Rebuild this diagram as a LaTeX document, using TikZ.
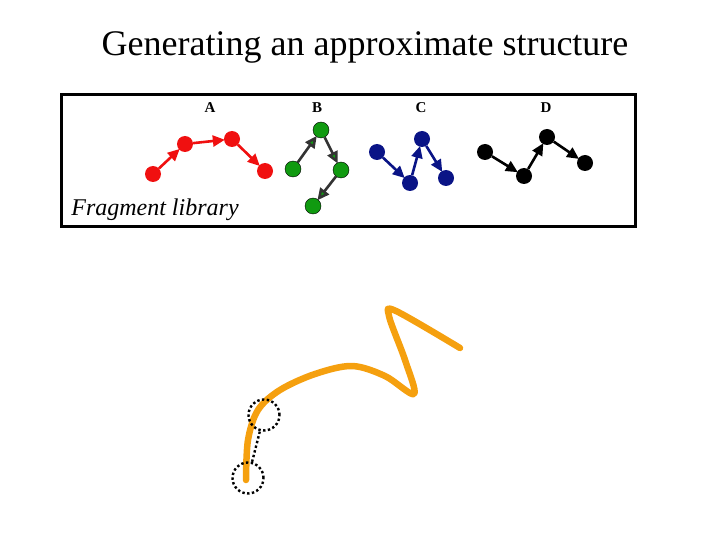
\documentclass[tikz,border=0pt]{standalone}
\usepackage{fontspec}
\setmainfont{Liberation Serif}
\usetikzlibrary{arrows.meta}
\definecolor{fragred}{HTML}{F01010}
\definecolor{fraggreen}{HTML}{109A10}
\definecolor{fragblue}{HTML}{0A1486}
\definecolor{chainorange}{HTML}{F5A00F}

\begin{document}
\begin{tikzpicture}[
		x=1pt, y=-1pt,
		every node/.style={align=center},
		fragnode/.style={circle, inner sep=0pt, minimum size=16pt},
		fraglink/.style={-{Triangle[length=12pt, width=11pt]}, line width=2.6pt, shorten >=-1pt},
		fraglabel/.style={font=\fontsize{15}{17}\selectfont\bfseries},
		libbox/.style={draw=black, line width=3pt, inner sep=0pt},
		probe/.style={circle, draw=black, line width=2.4pt, dash pattern=on 2.4pt off 2.4pt,
				minimum size=31pt, inner sep=0pt},
		chain/.style={chainorange, line width=6.5pt, line cap=round, line join=round},
		]
		\useasboundingbox (0,0) rectangle (720,540);

		% Titel
		\node[font=\fontsize{36}{40}\selectfont] (title) at (365,47) {Generating an approximate structure};

		% Fragment-Bibliothek
		\draw[libbox] (61,95) rectangle (635,227);
		\node[font=\fontsize{24}{27}\selectfont\itshape] (lib) at (155,210) {Fragment library};

		\node[fraglabel] (labA) at (210,108) {A};
		\node[fraglabel] (labB) at (317,108) {B};
		\node[fraglabel] (labC) at (421,108) {C};
		\node[fraglabel] (labD) at (546,108) {D};

		% Fragment A
		\node[fragnode, fill=fragred] (a1) at (153,174) {};
		\node[fragnode, fill=fragred] (a2) at (185,144) {};
		\node[fragnode, fill=fragred] (a3) at (232,139) {};
		\node[fragnode, fill=fragred] (a4) at (265,171) {};
		\draw[fraglink, fragred] (a1) -- (a2);
		\draw[fraglink, fragred] (a2) -- (a3);
		\draw[fraglink, fragred] (a3) -- (a4);

		% Fragment B
		\node[fragnode, fill=fraggreen, draw=black, thin] (b1) at (293,169) {};
		\node[fragnode, fill=fraggreen, draw=black, thin] (b2) at (321,130) {};
		\node[fragnode, fill=fraggreen, draw=black, thin] (b3) at (341,170) {};
		\node[fragnode, fill=fraggreen, draw=black, thin] (b4) at (313,206) {};
		\draw[fraglink, black!80, -{Triangle[length=12pt, width=11pt, fill=fraggreen]}] (b1) -- (b2);
		\draw[fraglink, black!80, -{Triangle[length=12pt, width=11pt, fill=fraggreen]}] (b2) -- (b3);
		\draw[fraglink, black!80, -{Triangle[length=12pt, width=11pt, fill=fraggreen]}] (b3) -- (b4);

		% Fragment C
		\node[fragnode, fill=fragblue] (c1) at (377,152) {};
		\node[fragnode, fill=fragblue] (c2) at (410,183) {};
		\node[fragnode, fill=fragblue] (c3) at (422,139) {};
		\node[fragnode, fill=fragblue] (c4) at (446,178) {};
		\draw[fraglink, fragblue] (c1) -- (c2);
		\draw[fraglink, fragblue] (c2) -- (c3);
		\draw[fraglink, fragblue] (c3) -- (c4);

		% Fragment D
		\node[fragnode, fill=black] (d1) at (485,152) {};
		\node[fragnode, fill=black] (d2) at (524,176) {};
		\node[fragnode, fill=black] (d3) at (547,137) {};
		\node[fragnode, fill=black] (d4) at (585,163) {};
		\draw[fraglink, black] (d1) -- (d2);
		\draw[fraglink, black] (d2) -- (d3);
		\draw[fraglink, black] (d3) -- (d4);

		% Kette
		\draw[chain] plot[smooth, tension=0.55] coordinates {
				(246,480) (248,440) (258,410) (280,390) (315,374) (352,366)
				(385,376) (414,394) (405,360) (389,316) (396,311) (460,348)};

		% Residuen
		\node[probe] (res1) at (264,415) {};
		\node[probe] (res2) at (248,478) {};
		\draw[line width=2.4pt, dash pattern=on 2.4pt off 2.4pt] (res2) -- (res1);

	\end{tikzpicture}
\end{document}
